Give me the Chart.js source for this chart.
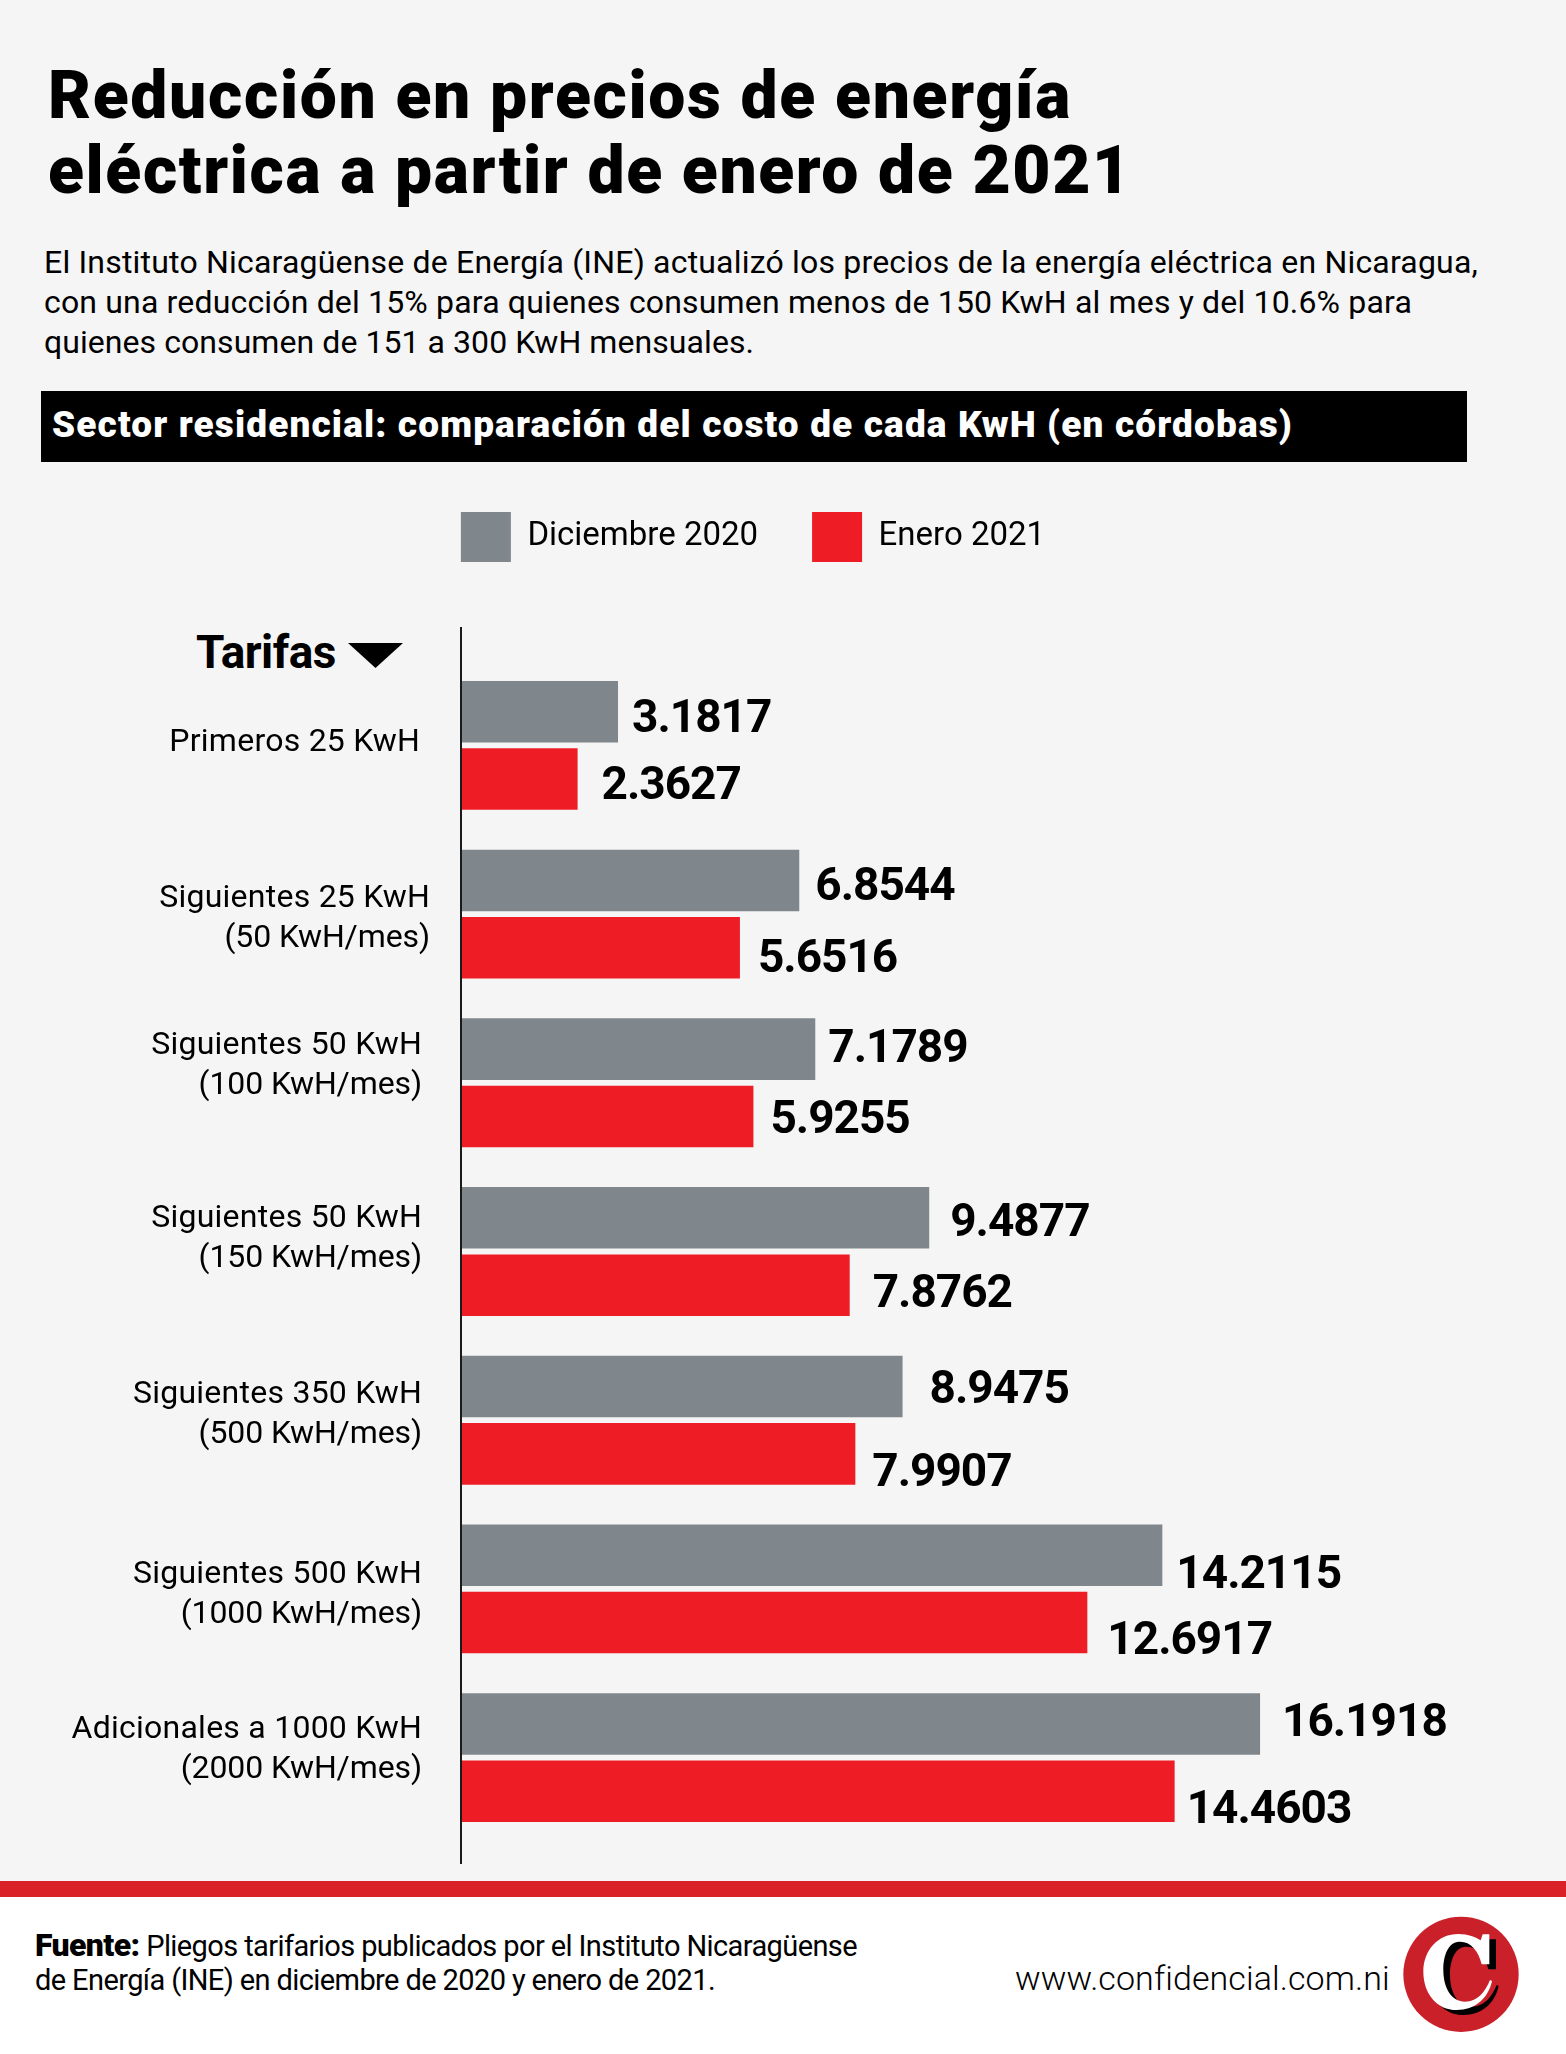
<!DOCTYPE html>
<html>
<head>
<meta charset="utf-8">
<script src="https://cdn.jsdelivr.net/npm/chart.js@4"></script>
<style>
  html, body { margin: 0; padding: 0; }
  body { width: 1566px; height: 2054px; position: relative; overflow: hidden; background: #f5f5f5; font-family: Roboto, sans-serif; color: #000; }
  .t { position: absolute; white-space: nowrap; line-height: 1; }
  .title { font-weight: 900; font-size: 66px; }
  .body { font-size: 32px; }
  .src { font-size: 29px; }
  .src b { font-size: 32px; font-weight: 900; }
  #bar { position: absolute; left: 41px; top: 391px; width: 1426px; height: 71px; background: #000; }
  #band { position: absolute; left: 0; top: 1881px; width: 1566px; height: 16px; background: #da2128; }
  #foot { position: absolute; left: 0; top: 1897px; width: 1566px; height: 157px; background: #fff; }
  #chartBox { position: absolute; left: 0; top: 458px; width: 1506px; height: 1412px; }
  #logo { position: absolute; left: 1390px; top: 1905px; }
</style>
</head>
<body>
  <div id="foot"></div>
  <div id="band"></div>
  <div id="bar"></div>

  <div class="t title" data-w="1024" style="left:48px;top:63px">Reducción en precios de energía</div>
  <div class="t title" data-w="1084" style="left:48px;top:138px">eléctrica a partir de enero de 2021</div>

  <div class="t body" data-w="1434" style="left:44px;top:246px">El Instituto Nicaragüense de Energía (INE) actualizó los precios de la energía eléctrica en Nicaragua,</div>
  <div class="t body" data-w="1368" style="left:44px;top:286px">con una reducción del 15% para quienes consumen menos de 150 KwH al mes y del 10.6% para</div>
  <div class="t body" data-w="710" style="left:44px;top:326px">quienes consumen de 151 a 300 KwH mensuales.</div>

  <div class="t" data-w="1241" style="left:52px;top:406px;font-size:37px;font-weight:900;color:#fff">Sector residencial: comparación del costo de cada KwH (en córdobas)</div>

  <div class="t" data-w="140" style="left:196px;top:629px;font-size:46px;font-weight:700">Tarifas</div>
  <svg style="position:absolute;left:348px;top:643px" width="56" height="26"><polygon points="0,0 55,0 27.5,25" fill="#000"/></svg>

  <div class="t src" data-w="822" style="left:35px;top:1929px"><b>Fuente:</b> Pliegos tarifarios publicados por el Instituto Nicaragüense</div>
  <div class="t src" data-w="680" style="left:35px;top:1966px">de Energía (INE) en diciembre de 2020 y enero de 2021.</div>
  <div class="t" data-w="374" style="left:1015px;top:1961px;font-size:34px;font-weight:300">www.confidencial.com.ni</div>

  <svg id="logo" width="145" height="145" viewBox="0 0 435 435">
    <defs>
      <path id="letraC" d="M298 88 L298 178 L275 178 C265 135 240 108 207 110 C175 112 160 150 160 195 C160 250 185 290 225 290 C262 290 285 262 300 225 L306 228 C295 280 255 315 200 315 C140 315 100 265 100 200 C100 135 145 87 205 87 C235 87 258 97 272 106 L278 88 Z"/>
    </defs>
    <circle cx="213" cy="208" r="173" fill="#c9202a"/>
    <use href="#letraC" fill="#000" transform="translate(20 15)"/>
    <use href="#letraC" fill="#fff"/>
  </svg>

  <div id="chartBox"><canvas id="chart" width="1506" height="1412"></canvas></div>

<script>
// datos
const categorias = [
  ["Primeros 25 KwH"],
  ["Siguientes 25 KwH", "(50 KwH/mes)"],
  ["Siguientes 50 KwH", "(100 KwH/mes)"],
  ["Siguientes 50 KwH", "(150 KwH/mes)"],
  ["Siguientes 350 KwH", "(500 KwH/mes)"],
  ["Siguientes 500 KwH", "(1000 KwH/mes)"],
  ["Adicionales a 1000 KwH", "(2000 KwH/mes)"]
];
const diciembre2020 = [3.1817, 6.8544, 7.1789, 9.4877, 8.9475, 14.2115, 16.1918];
const enero2021 = [2.3627, 5.6516, 5.9255, 7.8762, 7.9907, 12.6917, 14.4603];

// ajustes a mano de las etiquetas [dx, dy], el original no va alineado
const ajusteCat = [[-2, -2], [8, 5], [0, -17], [0, -13], [0, -5], [0, 6], [0, -8]];
const ajusteDic = [[14, 9], [16, 8], [13, 1], [21, 7], [27, 5], [14, 21], [22, 1]];
const ajusteEne = [[24, 8], [18, 13], [17, 5], [23, 10], [17, 21], [20, 20], [12, 20]];

// ajusta el ancho de las lineas de texto con letter-spacing
document.querySelectorAll("[data-w]").forEach(el => {
  const n = el.textContent.length;
  const diff = parseFloat(el.dataset.w) - el.getBoundingClientRect().width;
  el.style.letterSpacing = (diff / n).toFixed(3) + "px";
});

const etiquetas = {
  id: "etiquetas",
  afterDatasetsDraw(chart) {
    const { ctx, chartArea, scales } = chart;
    const ejeX = chartArea.left;

    ctx.save();
    // linea vertical del eje, sobresale del area de barras
    ctx.strokeStyle = "#1a1a1a";
    ctx.lineWidth = 2;
    ctx.beginPath();
    ctx.moveTo(ejeX, chartArea.top - 34);
    ctx.lineTo(ejeX, chartArea.bottom + 22);
    ctx.stroke();

    ctx.fillStyle = "#000";
    ctx.textBaseline = "middle";

    // categorias
    ctx.textAlign = "right";
    ctx.font = "400 32px Roboto";
    categorias.forEach((lineas, i) => {
      const y0 = scales.y.getPixelForValue(i) + ajusteCat[i][1];
      lineas.forEach((txt, k) => {
        ctx.letterSpacing = k === 0 ? "0.25px" : "-0.1px";
        ctx.fillText(txt, ejeX - 39 + ajusteCat[i][0], y0 + (k - (lineas.length - 1) / 2) * 40);
      });
    });

    // valores al final de cada barra
    ctx.textAlign = "left";
    ctx.font = "700 46px Roboto";
    ctx.letterSpacing = "-1px";
    [ajusteDic, ajusteEne].forEach((ajuste, d) => {
      chart.getDatasetMeta(d).data.forEach((bar, i) => {
        const v = chart.data.datasets[d].data[i];
        ctx.fillText(v.toFixed(4), bar.x + ajuste[i][0], bar.y + ajuste[i][1]);
      });
    });
    ctx.restore();
  }
};

new Chart(document.getElementById("chart"), {
  type: "bar",
  data: {
    labels: categorias,
    datasets: [
      { label: "Diciembre 2020", data: diciembre2020, backgroundColor: "#80878c", borderWidth: 0 },
      { label: "Enero 2021", data: enero2021, backgroundColor: "#ee1c25", borderWidth: 0 }
    ]
  },
  options: {
    indexAxis: "y",
    responsive: false,
    animation: false,
    devicePixelRatio: 1,
    categoryPercentage: 0.798,
    barPercentage: 0.914,
    layout: { padding: { bottom: 28 } },
    scales: {
      x: {
        position: "top",
        min: 0,
        max: 21.175,
        grid: { display: false },
        border: { display: false },
        ticks: { display: false },
        afterFit(scale) { scale.height = 89; } // espacio entre leyenda y barras
      },
      y: {
        grid: { display: false },
        border: { display: false },
        ticks: { display: false },
        afterFit(scale) { scale.width = 461; } // las categorias se pintan en el plugin
      }
    },
    plugins: {
      tooltip: { enabled: false },
      legend: {
        position: "top",
        labels: {
          boxWidth: 50,
          boxHeight: 50,
          padding: 54,
          color: "#000",
          font: { family: "Roboto", size: 33 }
        }
      }
    }
  },
  plugins: [etiquetas]
});
</script>
</body>
</html>
